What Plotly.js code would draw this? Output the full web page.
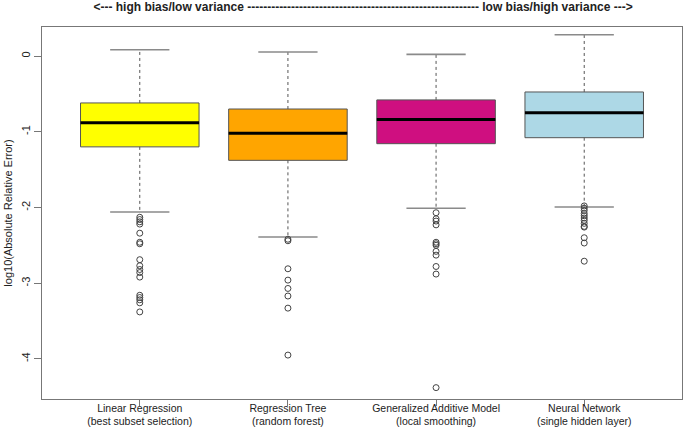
<!DOCTYPE html>
<html>
<head>
<meta charset="utf-8">
<script src="https://cdn.plot.ly/plotly-3.0.1.min.js"></script>
<style>html,body{margin:0;padding:0;background:#fff;}#chart{width:685px;height:428px;}</style>
</head>
<body>
<div id="chart"></div>
<script>
// ---- data ----
const categories = [
  "Linear Regression<br>(best subset selection)",
  "Regression Tree<br>(random forest)",
  "Generalized Additive Model<br>(local smoothing)",
  "Neural Network<br>(single hidden layer)"
];
const positions = [1, 2, 3, 4];
const fillColors = ["#FFFF00", "#FFA500", "#CF0F80", "#ADD8E6"];
const q1Values = [-1.20, -1.378, -1.158, -1.079];
const medianValues = [-0.88, -1.02, -0.84, -0.749];
const q3Values = [-0.62, -0.70, -0.58, -0.475];
const lowerWhisker = [-2.06, -2.39, -2.01, -1.995];
const upperWhisker = [0.083, 0.053, 0.022, 0.28];
const outliersLR = [-2.13, -2.16, -2.19, -2.22, -2.34, -2.46, -2.48, -2.69, -2.77, -2.82, -2.86, -2.92, -3.16, -3.19, -3.22, -3.26, -3.38];
const outliersRT = [-2.42, -2.44, -2.81, -2.96, -3.07, -3.17, -3.33, -3.95];
const outliersGAM = [-2.07, -2.15, -2.18, -2.23, -2.46, -2.48, -2.50, -2.58, -2.63, -2.78, -2.88, -4.38];
const outliersNN = [-1.98, -2.01, -2.04, -2.08, -2.11, -2.14, -2.17, -2.21, -2.25, -2.26, -2.40, -2.47, -2.71];
const outlierGroups = [outliersLR, outliersRT, outliersGAM, outliersNN];
const titleText = "<--- high bias/low variance " + "-".repeat(58) + " low bias/high variance --->";
const yTitle = "log10(Absolute Relative Error)";
const yTicks = [0, -1, -2, -3, -4];

// ---- build traces ----
const FONT = "Liberation Sans, Arial, Helvetica, sans-serif";
const BOXW = 0.8, STAPLE = 0.2;
const traces = [];

positions.forEach((p, i) => {
  traces.push({
    type: "box", x: [p],
    q1: [q1Values[i]], median: [medianValues[i]], q3: [q3Values[i]],
    lowerfence: [q1Values[i]], upperfence: [q3Values[i]],
    width: BOXW, fillcolor: fillColors[i],
    line: {color: "#555555", width: 1},
    whiskerwidth: 0, boxpoints: false, hoverinfo: "skip", showlegend: false
  });
});

// dashed whiskers
const wx = [], wy = [];
positions.forEach((p, i) => {
  wx.push(p, p, null, p, p, null);
  wy.push(q3Values[i], upperWhisker[i], null, q1Values[i], lowerWhisker[i], null);
});
traces.push({type: "scatter", mode: "lines", x: wx, y: wy,
  line: {color: "#555555", width: 1, dash: "3px,3px"}, hoverinfo: "skip", showlegend: false});

// staples
const sx = [], sy = [];
positions.forEach((p, i) => {
  sx.push(p - STAPLE, p + STAPLE, null, p - STAPLE, p + STAPLE, null);
  sy.push(upperWhisker[i], upperWhisker[i], null, lowerWhisker[i], lowerWhisker[i], null);
});
traces.push({type: "scatter", mode: "lines", x: sx, y: sy,
  line: {color: "#8a8a8a", width: 1.6}, hoverinfo: "skip", showlegend: false});

// thick medians
const mx = [], my = [];
positions.forEach((p, i) => {
  mx.push(p - BOXW / 2, p + BOXW / 2, null);
  my.push(medianValues[i], medianValues[i], null);
});
traces.push({type: "scatter", mode: "lines", x: mx, y: my,
  line: {color: "#000000", width: 3}, hoverinfo: "skip", showlegend: false});

// outliers
const ox = [], oy = [];
outlierGroups.forEach((g, i) => g.forEach(v => { ox.push(positions[i]); oy.push(v); }));
traces.push({type: "scatter", mode: "markers", x: ox, y: oy,
  marker: {symbol: "circle-open", size: 6, color: "#444444", line: {width: 1, color: "#444444"}},
  hoverinfo: "skip", showlegend: false});

const layout = {
  width: 685, height: 428,
  margin: {l: 42, r: 3, t: 27, b: 29, pad: 0},
  paper_bgcolor: "#ffffff", plot_bgcolor: "#ffffff",
  font: {family: FONT, color: "#222222", size: 11},
  title: {text: titleText, font: {family: FONT, size: 12, color: "#222222", weight: "bold"},
    x: 0.53, xref: "container", xanchor: "center", y: 0.985, yref: "container", yanchor: "middle"},
  showlegend: false,
  xaxis: {
    range: [0.34, 4.66], tickvals: positions, ticktext: categories,
    showgrid: false, zeroline: false, showline: true, mirror: true,
    linecolor: "#777777", linewidth: 1,
    ticks: "outside", ticklen: 6, tickcolor: "#777777",
    ticklabelstandoff: -7,
    tickfont: {size: 10.5, color: "#222222"}, fixedrange: true
  },
  yaxis: {
    range: [-4.53, 0.383], tickvals: yTicks, ticktext: yTicks.map(v => String(v)),
    tickangle: -90,
    showgrid: false, zeroline: false, showline: true, mirror: true,
    linecolor: "#777777", linewidth: 1,
    ticks: "outside", ticklen: 7, tickcolor: "#777777",
    tickfont: {size: 11, color: "#222222"},
    title: {text: yTitle, font: {size: 11, color: "#222222"}, standoff: 4},
    automargin: false, fixedrange: true
  }
};

Plotly.newPlot("chart", traces, layout, {staticPlot: true, displayModeBar: false});
</script>
</body>
</html>
